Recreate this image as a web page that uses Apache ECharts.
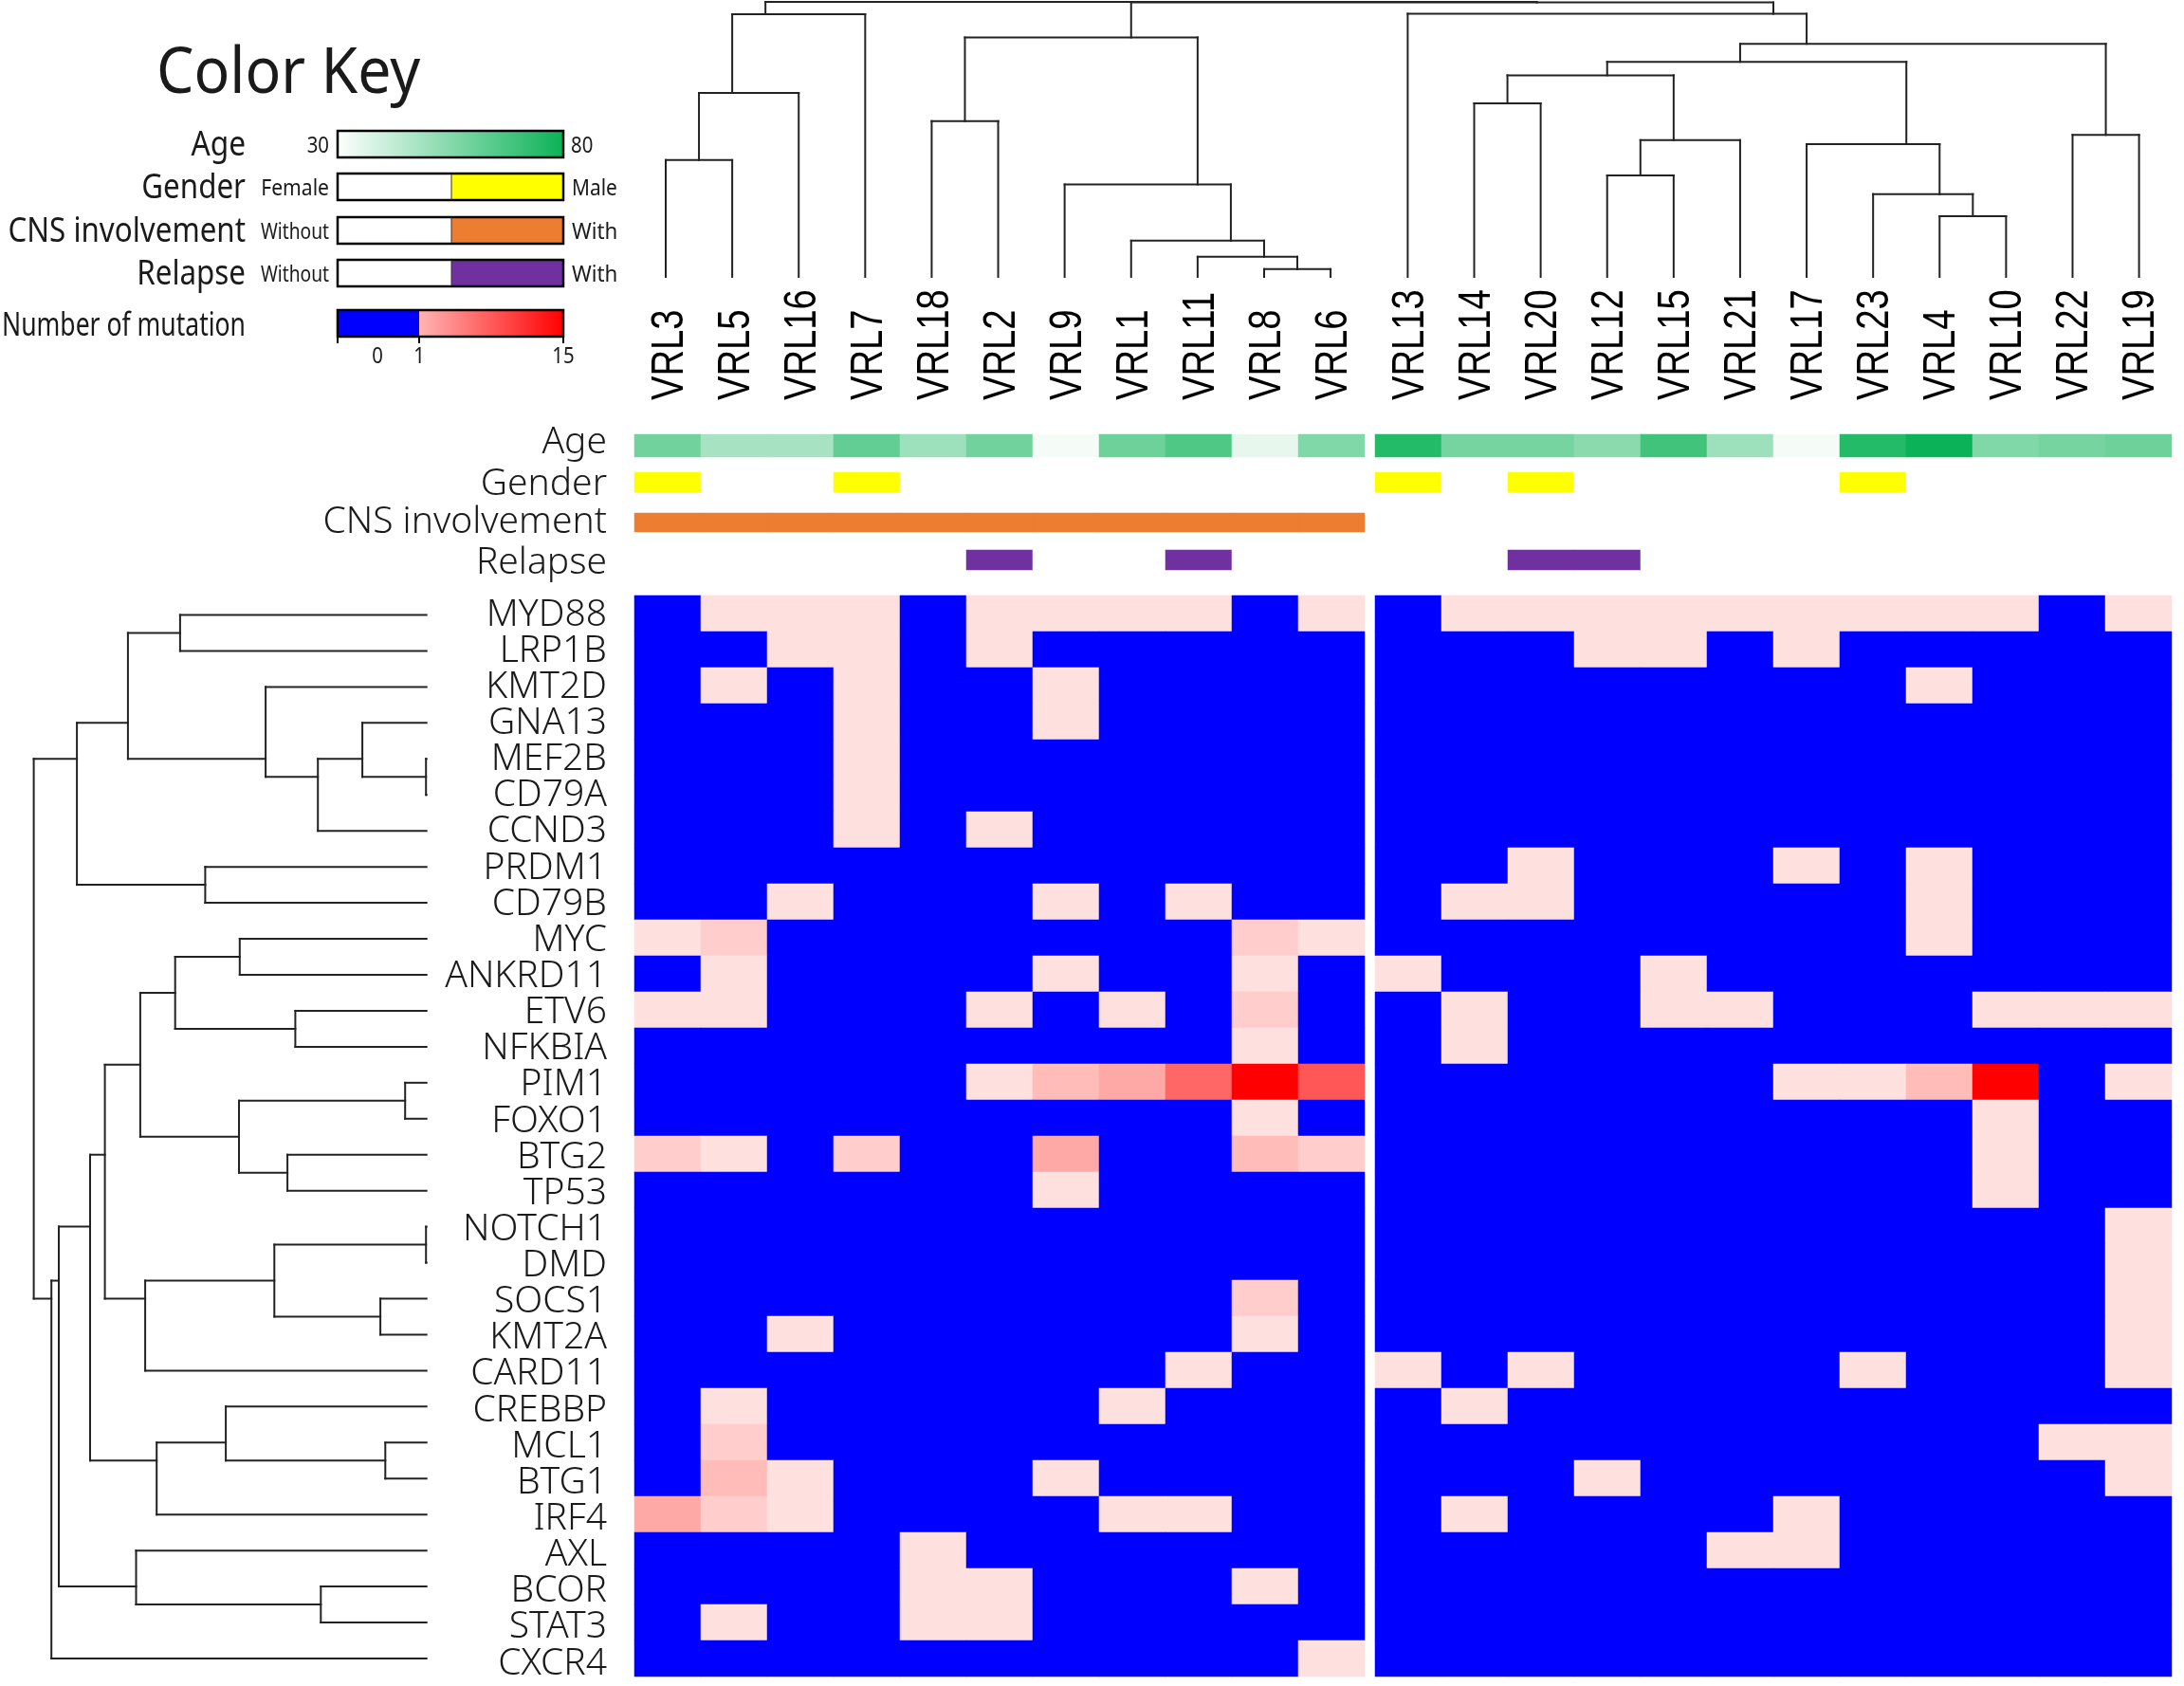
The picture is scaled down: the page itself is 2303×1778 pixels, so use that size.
<!DOCTYPE html>
<html>
<head>
<meta charset="utf-8">
<title>Color Key</title>
<script src="https://cdn.jsdelivr.net/npm/echarts@6/dist/echarts.min.js"></script>
<style>
html, body { margin: 0; padding: 0; background: #fff; }
#main { width: 2303px; height: 1778px; }
</style>
</head>
<body>
<div id="main"></div>
<script>
var samplesLeft = ['VRL3', 'VRL5', 'VRL16', 'VRL7', 'VRL18', 'VRL2', 'VRL9', 'VRL1', 'VRL11', 'VRL8', 'VRL6'];
var samplesRight = ['VRL13', 'VRL14', 'VRL20', 'VRL12', 'VRL15', 'VRL21', 'VRL17', 'VRL23', 'VRL4', 'VRL10', 'VRL22', 'VRL19'];
var genes = ['MYD88', 'LRP1B', 'KMT2D', 'GNA13', 'MEF2B', 'CD79A', 'CCND3', 'PRDM1', 'CD79B', 'MYC',
    'ANKRD11', 'ETV6', 'NFKBIA', 'PIM1', 'FOXO1', 'BTG2', 'TP53', 'NOTCH1', 'DMD', 'SOCS1',
    'KMT2A', 'CARD11', 'CREBBP', 'MCL1', 'BTG1', 'IRF4', 'AXL', 'BCOR', 'STAT3', 'CXCR4'];

// one row per gene
var mutationsLeft = [
    [0, 1, 1, 1, 0, 1, 1, 1, 1, 0, 1],
    [0, 0, 1, 1, 0, 1, 0, 0, 0, 0, 0],
    [0, 1, 0, 1, 0, 0, 1, 0, 0, 0, 0],
    [0, 0, 0, 1, 0, 0, 1, 0, 0, 0, 0],
    [0, 0, 0, 1, 0, 0, 0, 0, 0, 0, 0],
    [0, 0, 0, 1, 0, 0, 0, 0, 0, 0, 0],
    [0, 0, 0, 1, 0, 1, 0, 0, 0, 0, 0],
    [0, 0, 0, 0, 0, 0, 0, 0, 0, 0, 0],
    [0, 0, 1, 0, 0, 0, 1, 0, 1, 0, 0],
    [1, 2, 0, 0, 0, 0, 0, 0, 0, 2, 1],
    [0, 1, 0, 0, 0, 0, 1, 0, 0, 1, 0],
    [1, 1, 0, 0, 0, 1, 0, 1, 0, 2, 0],
    [0, 0, 0, 0, 0, 0, 0, 0, 0, 1, 0],
    [0, 0, 0, 0, 0, 1, 3, 4, 8, 15, 9],
    [0, 0, 0, 0, 0, 0, 0, 0, 0, 1, 0],
    [2, 1, 0, 2, 0, 0, 4, 0, 0, 3, 2],
    [0, 0, 0, 0, 0, 0, 1, 0, 0, 0, 0],
    [0, 0, 0, 0, 0, 0, 0, 0, 0, 0, 0],
    [0, 0, 0, 0, 0, 0, 0, 0, 0, 0, 0],
    [0, 0, 0, 0, 0, 0, 0, 0, 0, 2, 0],
    [0, 0, 1, 0, 0, 0, 0, 0, 0, 1, 0],
    [0, 0, 0, 0, 0, 0, 0, 0, 1, 0, 0],
    [0, 1, 0, 0, 0, 0, 0, 1, 0, 0, 0],
    [0, 2, 0, 0, 0, 0, 0, 0, 0, 0, 0],
    [0, 3, 1, 0, 0, 0, 1, 0, 0, 0, 0],
    [4, 2, 1, 0, 0, 0, 0, 1, 1, 0, 0],
    [0, 0, 0, 0, 1, 0, 0, 0, 0, 0, 0],
    [0, 0, 0, 0, 1, 1, 0, 0, 0, 1, 0],
    [0, 1, 0, 0, 1, 1, 0, 0, 0, 0, 0],
    [0, 0, 0, 0, 0, 0, 0, 0, 0, 0, 1]
];
var mutationsRight = [
    [0, 1, 1, 1, 1, 1, 1, 1, 1, 1, 0, 1],
    [0, 0, 0, 1, 1, 0, 1, 0, 0, 0, 0, 0],
    [0, 0, 0, 0, 0, 0, 0, 0, 1, 0, 0, 0],
    [0, 0, 0, 0, 0, 0, 0, 0, 0, 0, 0, 0],
    [0, 0, 0, 0, 0, 0, 0, 0, 0, 0, 0, 0],
    [0, 0, 0, 0, 0, 0, 0, 0, 0, 0, 0, 0],
    [0, 0, 0, 0, 0, 0, 0, 0, 0, 0, 0, 0],
    [0, 0, 1, 0, 0, 0, 1, 0, 1, 0, 0, 0],
    [0, 1, 1, 0, 0, 0, 0, 0, 1, 0, 0, 0],
    [0, 0, 0, 0, 0, 0, 0, 0, 1, 0, 0, 0],
    [1, 0, 0, 0, 1, 0, 0, 0, 0, 0, 0, 0],
    [0, 1, 0, 0, 1, 1, 0, 0, 0, 1, 1, 1],
    [0, 1, 0, 0, 0, 0, 0, 0, 0, 0, 0, 0],
    [0, 0, 0, 0, 0, 0, 1, 1, 3, 15, 0, 1],
    [0, 0, 0, 0, 0, 0, 0, 0, 0, 1, 0, 0],
    [0, 0, 0, 0, 0, 0, 0, 0, 0, 1, 0, 0],
    [0, 0, 0, 0, 0, 0, 0, 0, 0, 1, 0, 0],
    [0, 0, 0, 0, 0, 0, 0, 0, 0, 0, 0, 1],
    [0, 0, 0, 0, 0, 0, 0, 0, 0, 0, 0, 1],
    [0, 0, 0, 0, 0, 0, 0, 0, 0, 0, 0, 1],
    [0, 0, 0, 0, 0, 0, 0, 0, 0, 0, 0, 1],
    [1, 0, 1, 0, 0, 0, 0, 1, 0, 0, 0, 1],
    [0, 1, 0, 0, 0, 0, 0, 0, 0, 0, 0, 0],
    [0, 0, 0, 0, 0, 0, 0, 0, 0, 0, 1, 1],
    [0, 0, 0, 1, 0, 0, 0, 0, 0, 0, 0, 1],
    [0, 1, 0, 0, 0, 0, 1, 0, 0, 0, 0, 0],
    [0, 0, 0, 0, 0, 1, 1, 0, 0, 0, 0, 0],
    [0, 0, 0, 0, 0, 0, 0, 0, 0, 0, 0, 0],
    [0, 0, 0, 0, 0, 0, 0, 0, 0, 0, 0, 0],
    [0, 0, 0, 0, 0, 0, 0, 0, 0, 0, 0, 0]
];

var ageLeft = [59, 48, 48, 62, 50, 59, 32, 60, 66, 35, 56];
var ageRight = [75, 58, 58, 54, 69, 50, 32, 75, 80, 56, 58, 60];
var genderLeft = [1, 0, 0, 1, 0, 0, 0, 0, 0, 0, 0];
var genderRight = [1, 0, 1, 0, 0, 0, 0, 1, 0, 0, 0, 0];
var cnsLeft = [1, 1, 1, 1, 1, 1, 1, 1, 1, 1, 1];
var cnsRight = [0, 0, 0, 0, 0, 0, 0, 0, 0, 0, 0, 0];
var relapseLeft = [0, 0, 0, 0, 0, 1, 0, 0, 1, 0, 0];
var relapseRight = [0, 0, 1, 1, 0, 0, 0, 0, 0, 0, 0, 0];

// dendrograms: [left, right, height], a number is a leaf
var colTree = [
    [[[0, 1, 123.2], 2, 194], 3, 277],
    [
        [[4, 5, 164.3], [6, [7, [8, [9, 10, 8.2], 21.2], 38.2], 97.5], 252.5],
        [11, [
            [
                [[12, 13, 183], [[14, 15, 107], 16, 144.2], 212.6],
                [17, [18, [19, 20, 64], 87.3], 140],
                226.8
            ],
            [21, 22, 149.7],
            245.8
        ], 277.4],
        289.4
    ],
    290
];
var rowTree = [
    [
        [[0, 1, 259.8], [2, [[3, [4, 5, 0.5], 67.6], 6, 114.5], 169.6], 314.8],
        [7, 8, 233.3],
        368.6
    ],
    [
        [
            [
                [
                    [[[9, 10, 196.9], [11, 12, 138.3], 265], [[13, 14, 22.5], [15, 16, 146.6], 197.7], 301.8],
                    [[[17, 18, 0.5], [19, 20, 48.6], 160.4], 21, 296.6],
                    339.1
                ],
                [[22, [23, 24, 43.4], 211.6], 25, 284.5],
                354.7
            ],
            [26, [27, 28, 111.4], 306.2],
            387.7
        ],
        29,
        395.5
    ],
    414.1
];

var font = '"Noto Sans", sans-serif';
var dendroColor = '#222';

// flatten a tree into segments, a node sits at the mean of its leaves
function treeSegments(tree, leafPos) {
    var segs = [];
    function walk(node) {
        if (typeof node === 'number') {
            return { pos: [leafPos(node)], h: 0 };
        }
        var a = walk(node[0]);
        var b = walk(node[1]);
        var h = node[2];
        var ma = mean(a.pos);
        var mb = mean(b.pos);
        segs.push([ma, a.h, ma, h]);
        segs.push([mb, b.h, mb, h]);
        segs.push([ma, h, mb, h]);
        return { pos: a.pos.concat(b.pos), h: h };
    }
    walk(tree);
    return segs;
}
function mean(arr) {
    var s = 0;
    for (var i = 0; i < arr.length; i++) s += arr[i];
    return s / arr.length;
}

function renderSegment(params, api) {
    var p1 = api.coord([api.value(0), api.value(1)]);
    var p2 = api.coord([api.value(2), api.value(3)]);
    return {
        type: 'line',
        shape: { x1: p1[0], y1: p1[1], x2: p2[0], y2: p2[1] },
        style: { stroke: dendroColor, lineWidth: 2, lineCap: 'square' }
    };
}

function matrixCells(matrix) {
    var cells = [];
    matrix.forEach(function (row, y) {
        row.forEach(function (v, x) {
            cells.push([x, y, v]);
        });
    });
    return cells;
}
function stripCells(values) {
    return values.map(function (v, x) {
        return [x, 0, v];
    });
}

var grids = [];
var xAxes = [];
var yAxes = [];
var series = [];
var seriesOf = { mutation: [], age: [], gender: [], cns: [], relapse: [] };

var panels = [
    { left: 669, width: 770, samples: samplesLeft, mutations: mutationsLeft, age: ageLeft, gender: genderLeft, cns: cnsLeft, relapse: relapseLeft, first: true },
    { left: 1450, width: 840, samples: samplesRight, mutations: mutationsRight, age: ageRight, gender: genderRight, cns: cnsRight, relapse: relapseRight, first: false }
];
var strips = [
    { key: 'age', label: 'Age', top: 458, height: 24, labelTop: 455 },
    { key: 'gender', label: 'Gender', top: 498, height: 21, labelTop: 500 },
    { key: 'cns', label: 'CNS involvement', top: 541, height: 20, labelTop: 541 },
    { key: 'relapse', label: 'Relapse', top: 580, height: 21, labelTop: 583 }
];

function addGrid(grid, xAxis, yAxis) {
    var i = grids.length;
    grids.push(grid);
    xAxis.gridIndex = i;
    yAxis.gridIndex = i;
    xAxes.push(xAxis);
    yAxes.push(yAxis);
    return i;
}
function bareAxis(extra) {
    var axis = { axisLine: { show: false }, axisTick: { show: false }, splitLine: { show: false }, axisLabel: { show: false } };
    for (var k in extra) axis[k] = extra[k];
    return axis;
}
function rowLabelStyle(margin) {
    return { show: true, interval: 0, margin: margin, fontSize: 39, fontWeight: 300, fontFamily: font, color: '#1a1a1a', align: 'right' };
}

// sample names sit above the age strip, squeezed like the source lettering
function sampleNameRenderer(names) {
    return function (params, api) {
        var p = api.coord([api.value(0), 0]);
        return {
            type: 'text',
            x: p[0] + 2,
            y: p[1] - 48,
            rotation: Math.PI / 2,
            scaleX: 0.78,
            style: {
                text: names[params.dataIndex],
                textAlign: 'left', align: 'left', textVerticalAlign: 'middle', verticalAlign: 'middle',
                fontSize: 49, fontFamily: '"Liberation Sans", Arial, sans-serif', fill: '#000'
            }
        };
    };
}

panels.forEach(function (panel) {
    // mutation heatmap
    var g = addGrid(
        { left: panel.left, top: 628, width: panel.width, height: 1140 },
        bareAxis({ type: 'category', data: panel.samples }),
        bareAxis({ type: 'category', data: genes, inverse: true })
    );
    seriesOf.mutation.push(series.length);
    series.push({ type: 'heatmap', xAxisIndex: g, yAxisIndex: g, data: matrixCells(panel.mutations), silent: true, animation: false });

    // annotation strips
    strips.forEach(function (strip) {
        var s = addGrid(
            { left: panel.left, top: strip.top, width: panel.width, height: strip.height },
            bareAxis({ type: 'category', data: panel.samples }),
            bareAxis({ type: 'category', data: [strip.label] })
        );
        seriesOf[strip.key].push(series.length);
        series.push({ type: 'heatmap', xAxisIndex: s, yAxisIndex: s, data: stripCells(panel[strip.key]), silent: true, animation: false });
        if (strip.key === 'age') {
            series.push({
                type: 'custom', xAxisIndex: s, yAxisIndex: s, coordinateSystem: 'cartesian2d',
                data: panel.samples.map(function (name, i) { return [i]; }),
                encode: { x: 0 },
                renderItem: sampleNameRenderer(panel.samples), clip: false, silent: true, animation: false
            });
        }
    });
});

// label-only axes, the row names drift a little from the cells in the source
addGrid(
    { left: 669, top: 629.5, width: 770, height: 1144 },
    bareAxis({ type: 'category', data: samplesLeft }),
    bareAxis({ type: 'category', data: genes, inverse: true, axisLabel: rowLabelStyle(29) })
);
strips.forEach(function (strip) {
    addGrid(
        { left: 669, top: strip.labelTop, width: 770, height: strip.height },
        bareAxis({ type: 'category', data: samplesLeft }),
        bareAxis({ type: 'category', data: [strip.label], axisLabel: rowLabelStyle(29) })
    );
});

// column dendrogram, the gap between the panels is a bit more than a leaf
var colGap = 0.16;
var colSegs = treeSegments(colTree, function (i) {
    return i >= samplesLeft.length ? i + colGap : i;
});
var gTop = addGrid(
    { left: 702, top: 2, width: 1553.6, height: 290 },
    bareAxis({ type: 'value', min: 0, max: samplesLeft.length + samplesRight.length - 1 + colGap }),
    bareAxis({ type: 'value', min: 0, max: 290 })
);
series.push({
    type: 'custom', xAxisIndex: gTop, yAxisIndex: gTop, coordinateSystem: 'cartesian2d',
    data: colSegs, renderItem: renderSegment, clip: false, silent: true, animation: false,
    encode: { x: [0, 2], y: [1, 3] }
});

// row dendrogram, height grows to the left
var rowSegs = treeSegments(rowTree, function (i) { return i; });
var gLeft = addGrid(
    { left: 35.6, top: 648.5, width: 414.1, height: 1100.5 },
    bareAxis({ type: 'value', min: 0, max: 414.1, inverse: true }),
    bareAxis({ type: 'value', min: 0, max: genes.length - 1, inverse: true })
);
series.push({
    type: 'custom', xAxisIndex: gLeft, yAxisIndex: gLeft, coordinateSystem: 'cartesian2d',
    data: rowSegs.map(function (s) { return [s[1], s[0], s[3], s[2]]; }),
    renderItem: renderSegment, clip: false, silent: true, animation: false,
    encode: { x: [0, 2], y: [1, 3] }
});

var visualMaps = [
    {
        type: 'piecewise', show: false, seriesIndex: seriesOf.mutation, dimension: 2,
        pieces: [
            { value: 0, color: '#0000ff' },
            { value: 1, color: '#fee0de' },
            { value: 2, color: '#ffcdcb' },
            { value: 3, color: '#ffbcb9' },
            { value: 4, color: '#ffa9a6' },
            { value: 8, color: '#ff6666' },
            { value: 9, color: '#ff5757' },
            { value: 15, color: '#ff0000' }
        ]
    },
    { type: 'continuous', show: false, seriesIndex: seriesOf.age, dimension: 2, min: 30, max: 80, inRange: { color: ['#ffffff', '#0bb257'] } },
    { type: 'piecewise', show: false, seriesIndex: seriesOf.gender, dimension: 2, pieces: [{ value: 0, color: '#ffffff' }, { value: 1, color: '#ffff00' }] },
    { type: 'piecewise', show: false, seriesIndex: seriesOf.cns, dimension: 2, pieces: [{ value: 0, color: '#ffffff' }, { value: 1, color: '#ed7d31' }] },
    { type: 'piecewise', show: false, seriesIndex: seriesOf.relapse, dimension: 2, pieces: [{ value: 0, color: '#ffffff' }, { value: 1, color: '#7030a0' }] }
];

// color key, the key text in the source is squeezed sideways
function keyText(text, x, y, size, align, squeeze) {
    return {
        type: 'text', silent: true, x: x, y: y, scaleX: squeeze || 1,
        style: { text: text, x: 0, y: 0, textAlign: align, align: align, textVerticalAlign: 'middle', verticalAlign: 'middle', fontSize: size, fontFamily: font, fill: '#1a1a1a' }
    };
}
function keyRect(x, y, w, h, fill, stroke, lineWidth) {
    return {
        type: 'rect', silent: true,
        shape: { x: x, y: y, width: w, height: h },
        style: { fill: fill, stroke: stroke || null, lineWidth: lineWidth || 0 }
    };
}
var barLeft = 356;
var barWidth = 238;
var barMid = 476;
var keyBars = [
    { label: 'Gender', low: 'Female', high: 'Male', y: 183, color: '#ffff00', lowSqueeze: 0.88, highSqueeze: 0.87 },
    { label: 'CNS involvement', low: 'Without', high: 'With', y: 229, color: '#ed7d31', lowSqueeze: 0.8, highSqueeze: 0.93 },
    { label: 'Relapse', low: 'Without', high: 'With', y: 274, color: '#7030a0', lowSqueeze: 0.8, highSqueeze: 0.93 }
];
var keyEls = [keyText('Color Key', 304, 79, 68, 'center', 0.92)];

keyEls.push(keyText('Age', 259, 154, 36, 'right', 0.88));
keyEls.push(keyText('30', 347, 154, 24, 'right', 0.85));
keyEls.push(keyText('80', 602, 154, 24, 'left', 0.85));
keyEls.push(keyRect(barLeft, 138, barWidth, 28, new echarts.graphic.LinearGradient(0, 0, 1, 0, [
    { offset: 0, color: '#ffffff' }, { offset: 1, color: '#0bb257' }
]), '#000', 2.5));

keyBars.forEach(function (bar) {
    keyEls.push(keyText(bar.label, 259, bar.y + 16, 36, 'right', 0.87));
    keyEls.push(keyText(bar.low, 347, bar.y + 16, 24, 'right', bar.lowSqueeze));
    keyEls.push(keyText(bar.high, 603, bar.y + 16, 24, 'left', bar.highSqueeze));
    keyEls.push(keyRect(barMid, bar.y, barLeft + barWidth - barMid, 28, bar.color));
    keyEls.push(keyRect(barLeft, bar.y, barWidth, 28, 'transparent', '#000', 2.5));
    keyEls.push({ type: 'line', silent: true, shape: { x1: barMid, y1: bar.y, x2: barMid, y2: bar.y + 28 }, style: { stroke: '#333', lineWidth: 1 } });
});

keyEls.push(keyText('Number of mutation', 259, 344, 34, 'right', 0.78));
keyEls.push(keyRect(barLeft, 327, 86, 28, '#0000ff'));
keyEls.push(keyRect(442, 327, 152, 28, new echarts.graphic.LinearGradient(0, 0, 1, 0, [
    { offset: 0, color: '#ffb4b4' }, { offset: 1, color: '#ff0000' }
])));
keyEls.push(keyRect(barLeft, 327, barWidth, 28, 'transparent', '#000', 2.5));
[356, 442, 594].forEach(function (x) {
    keyEls.push({ type: 'line', silent: true, shape: { x1: x, y1: 355, x2: x, y2: 362 }, style: { stroke: '#000', lineWidth: 2 } });
});
keyEls.push(keyText('0', 398, 376, 24, 'center', 0.85));
keyEls.push(keyText('1', 442, 376, 24, 'center', 0.85));
keyEls.push(keyText('15', 594, 376, 24, 'center', 0.85));

var myChart = echarts.init(document.getElementById('main'));
myChart.setOption({
    backgroundColor: '#fff',
    animation: false,
    grid: grids,
    xAxis: xAxes,
    yAxis: yAxes,
    visualMap: visualMaps,
    series: series,
    graphic: { elements: keyEls }
});
</script>
</body>
</html>
